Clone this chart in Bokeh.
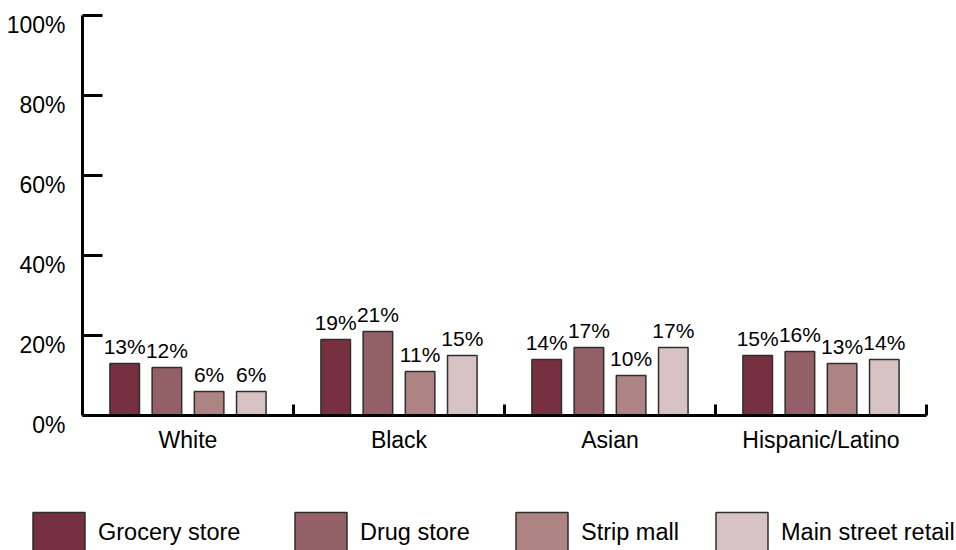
from bokeh.plotting import figure
from bokeh.models import (ColumnDataSource, FixedTicker, Range1d, Legend, LegendItem)
from bokeh.core.properties import value
from bokeh.embed import file_html
from bokeh.resources import INLINE

groups = ["White", "Black", "Asian", "Hispanic/Latino"]
series = ["Grocery store", "Drug store", "Strip mall", "Main street retail"]
grocery = [13, 19, 14, 15]
drug = [12, 21, 17, 16]
strip = [6, 11, 10, 13]
main_street = [6, 15, 17, 14]
y_ticks = [0, 20, 40, 60, 80, 100]
y_tick_labels = ["0%", "20%", "40%", "60%", "80%", "100%"]

values = [grocery, drug, strip, main_street]
colors = ["#77303F", "#946067", "#AE8384", "#D8C3C4"]
offsets = [-0.3, -0.1, 0.1, 0.3]
bar_width = 0.14
FONT = "Liberation Sans"

# Layout in pixels: the whole canvas is the plot frame; axes are pinned at 0.
W, H = 956, 550
AX_LEFT, AX_RIGHT, AX_TOP, AX_BOTTOM = 82, 926, 15, 415
n = len(groups)
px_x = (AX_RIGHT - AX_LEFT) / n
px_y = (AX_BOTTOM - AX_TOP) / 100.0
x_range = Range1d(-AX_LEFT / px_x, n + (W - AX_RIGHT) / px_x)
y_range = Range1d(-(H - AX_BOTTOM) / px_y, 100 + AX_TOP / px_y)

p = figure(width=W, height=H, output_backend="svg", toolbar_location=None,
           x_range=x_range, y_range=y_range,
           min_border_left=0, min_border_right=0, min_border_top=0,
           min_border_bottom=0)
p.outline_line_color = None
p.xgrid.visible = False
p.ygrid.visible = False
p.background_fill_color = "white"
p.border_fill_color = "white"

centers = [i + 0.5 for i in range(n)]
renderers = []
for s, vals, col, off in zip(series, values, colors, offsets):
    src = ColumnDataSource(dict(
        x=[c + off for c in centers],
        top=vals,
        label=[f"{v}%" for v in vals],
    ))
    r = p.vbar(x="x", top="top", bottom=0, width=bar_width, source=src,
               fill_color=col, line_color="#2e2e2e", line_width=1.5)
    renderers.append(r)
    p.text(x="x", y="top", text="label", source=src, text_align="center",
           text_baseline="bottom", y_offset=-6, text_font=value(FONT),
           text_font_size="21px", text_color="black")

# y axis (line + inward ticks); its labels sit just below each tick, as in the original
ya = p.yaxis[0]
ya.fixed_location = 0
ya.bounds = (0, 100)
ya.ticker = FixedTicker(ticks=y_ticks, minor_ticks=[])
ya.major_label_overrides = {t: "" for t in y_ticks}
ya.major_label_text_font_size = "0px"
ya.major_tick_in = 20
ya.major_tick_out = 0
ya.major_tick_line_width = 3
ya.major_tick_line_color = "black"
ya.axis_line_width = 3
ya.axis_line_color = "black"

ylab_src = ColumnDataSource(dict(x=[0] * len(y_ticks), y=y_ticks, text=y_tick_labels))
p.text(x="x", y="y", text="text", source=ylab_src, text_align="right",
       text_baseline="top", x_offset=-17, y_offset=-4, text_font=value(FONT),
       text_font_size="23px", text_color="black")

# x axis: labels at group centres, small tick marks at group boundaries
xa = p.xaxis[0]
xa.fixed_location = 0
xa.bounds = (0, n)
xa.ticker = FixedTicker(ticks=centers, minor_ticks=[1, 2, 3, 4])
xa.major_label_overrides = {c: g for c, g in zip(centers, groups)}
xa.major_tick_line_color = None
xa.major_tick_in = 0
xa.major_tick_out = 0
xa.minor_tick_in = 11
xa.minor_tick_out = 0
xa.minor_tick_line_width = 3
xa.minor_tick_line_color = "black"
xa.axis_line_width = 3
xa.axis_line_color = "black"
xa.major_label_standoff = 11
xa.major_label_text_font = FONT
xa.major_label_text_font_size = "23px"
xa.major_label_text_color = "black"

# legend: one entry per series, placed along the bottom edge
GLYPH_W, GLYPH_H = 65, 50          # legend swatch is drawn with a 10% inset
legend_left = [26, 288, 509, 709]  # pixel positions of each entry
for s, r, lx in zip(series, renderers, legend_left):
    lg = Legend(items=[LegendItem(label=s, renderers=[r])],
                orientation="horizontal", location=(lx, -7),
                glyph_width=GLYPH_W, glyph_height=GLYPH_H, label_standoff=7,
                padding=0, margin=0, border_line_color=None,
                background_fill_alpha=0, label_text_font=FONT,
                label_text_font_size="23.5px", label_text_color="black")
    p.add_layout(lg, "center")

open("out.html", "w").write(file_html(p, INLINE))
